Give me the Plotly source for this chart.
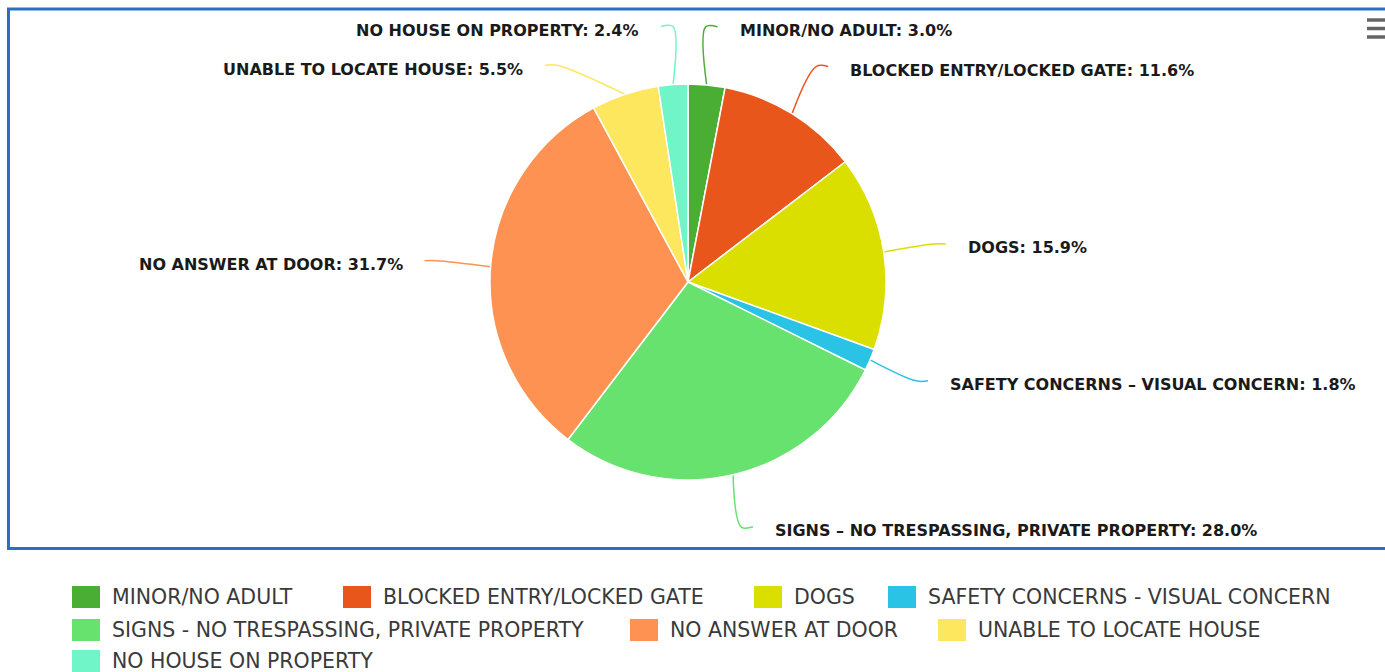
import math
import plotly.graph_objects as go

# ---------------- data ----------------
categories = [
    "MINOR/NO ADULT",
    "BLOCKED ENTRY/LOCKED GATE",
    "DOGS",
    "SAFETY CONCERNS – VISUAL CONCERN",
    "SIGNS – NO TRESPASSING, PRIVATE PROPERTY",
    "NO ANSWER AT DOOR",
    "UNABLE TO LOCATE HOUSE",
    "NO HOUSE ON PROPERTY",
]
legend_names = [
    "MINOR/NO ADULT",
    "BLOCKED ENTRY/LOCKED GATE",
    "DOGS",
    "SAFETY CONCERNS - VISUAL CONCERN",
    "SIGNS - NO TRESPASSING, PRIVATE PROPERTY",
    "NO ANSWER AT DOOR",
    "UNABLE TO LOCATE HOUSE",
    "NO HOUSE ON PROPERTY",
]
percentages = [3.0, 11.6, 15.9, 1.8, 28.0, 31.7, 5.5, 2.4]

# ---------------- style ----------------
colors = ["#4aae35", "#e9561c", "#dbdf00", "#2ac3e6",
          "#67e26e", "#fd9252", "#fde75e", "#6ff5c8"]
W, H = 1385, 672
CX, CY, R = 688, 282, 198          # pie centre / radius in px
# label text anchor offset from the slice edge point (px)
label_offsets = [(31, -54), (56, -43), (82, -4), (78, 25),
                 (40, 56), (-86, -2), (-100, -25), (-32, -54)]
# legend rows: (row y, [(item index, swatch x), ...])
legend_rows = [
    (597, [(0, 72), (1, 343), (2, 754), (3, 888)]),
    (630, [(4, 72), (5, 630), (6, 938)]),
    (661, [(7, 72)]),
]

fig = go.Figure()
fig.add_trace(go.Pie(
    labels=categories, values=percentages, sort=False,
    direction="clockwise", rotation=0,
    marker=dict(colors=colors, line=dict(color="white", width=1.5)),
    textinfo="none", hoverinfo="label+percent", showlegend=False,
    domain=dict(x=[(CX - R) / W, (CX + R) / W],
                y=[1 - (CY + R) / H, 1 - (CY - R) / H]),
))

annotations = []
shapes = []
total = sum(percentages)
cum = 0.0
for i, (name, v) in enumerate(zip(categories, percentages)):
    mid = (cum + v / 2) / total * 2 * math.pi
    cum += v
    ex = CX + R * math.sin(mid)
    ey = CY - R * math.cos(mid)
    dx, dy = label_offsets[i]
    tx, ty = ex + dx, ey + dy
    side = 1 if dx > 0 else -1
    endx, endy = tx - side * 20, ty - 4
    fig.add_trace(go.Scatter(
        x=[ex, endx - side * 12, endx], y=[ey, endy, endy],
        mode="lines", line=dict(color=colors[i], width=1.5, shape="spline"),
        hoverinfo="skip", showlegend=False, xaxis="x", yaxis="y"))
    annotations.append(dict(
        x=tx, y=ty, xref="x", yref="y", showarrow=False,
        text=f"{name}: {v:.1f}%", xanchor="left" if side > 0 else "right",
        yanchor="middle",
        font=dict(family="DejaVu Sans", size=16, color="#1a1a1a",
                  weight="bold"),
    ))

# manual legend
for ry, items in legend_rows:
    for idx, sx in items:
        shapes.append(dict(type="rect", xref="x", yref="y",
                           x0=sx, x1=sx + 28, y0=ry - 11, y1=ry + 11,
                           fillcolor=colors[idx], line=dict(width=0)))
        annotations.append(dict(
            x=sx + 38, y=ry, xref="x", yref="y", showarrow=False,
            text=legend_names[idx], xanchor="left", yanchor="middle",
            font=dict(family="DejaVu Sans", size=20.5, color="#3a3a3a")))

# chart frame
shapes.append(dict(type="rect", xref="x", yref="y", x0=8.5, x1=1395,
                   y0=9, y1=548.5, line=dict(color="#2a6fc2", width=3)))
# menu icon
for yy in (20, 28.5, 37):
    shapes.append(dict(type="line", xref="x", yref="y", x0=1367, x1=1385,
                       y0=yy, y1=yy, line=dict(color="#666666", width=3.5)))

fig.update_layout(
    width=W, height=H, margin=dict(l=0, r=0, t=0, b=0),
    paper_bgcolor="white", plot_bgcolor="rgba(0,0,0,0)",
    xaxis=dict(range=[0, W], visible=False, fixedrange=True, domain=[0, 1]),
    yaxis=dict(range=[H, 0], visible=False, fixedrange=True, domain=[0, 1]),
    annotations=annotations, shapes=shapes, showlegend=False,
)
fig.write_html(
    "out.html",
    config={"displayModeBar": False},
    post_script="document.body.style.margin='0';"
                "document.body.style.overflow='hidden';",
)
